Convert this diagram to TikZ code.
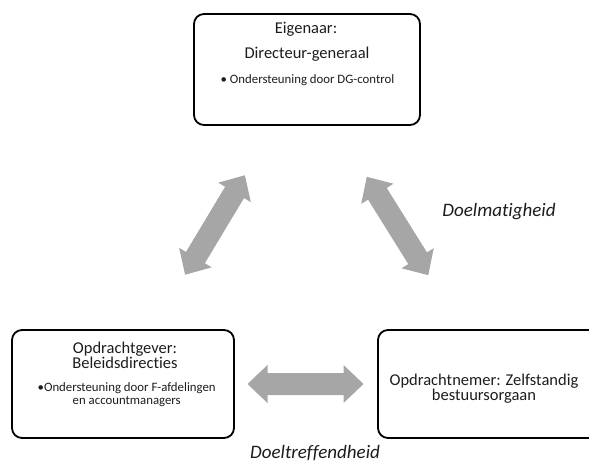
\documentclass[tikz,border=0pt]{standalone}
\usepackage{fontspec}
\setmainfont{Carlito}[Ligatures=NoCommon]
\definecolor{arrowgray}{HTML}{A6A6A6}
\definecolor{ink}{HTML}{1C1C1C}

\tikzset{
  roundbox/.style={draw=black, line width=1.8pt, rounded corners=10pt, inner sep=0pt},
  headtext/.style={anchor=base, text=ink, inner sep=0pt, align=center, font=\fontsize{16.5}{14.2}\selectfont},
  subtext/.style={anchor=base, text=ink, inner sep=0pt, align=center, font=\fontsize{12.8}{13}\selectfont},
  flowlabel/.style={anchor=base, text=ink, inner sep=0pt, font=\fontsize{19}{22}\selectfont\itshape},
  pics/dblarrow/.style={code={
    \fill[arrowgray] (-58,0) -- (-38,19) -- (-38,11) -- (38,11) -- (38,19)
      -- (58,0) -- (38,-19) -- (38,-11) -- (-38,-11) -- (-38,-19) -- cycle;
  }}
}

\begin{document}
\begin{tikzpicture}[x=1pt, y=-1pt]
\useasboundingbox (0,0) rectangle (589,463);
\clip (0,0) rectangle (589,463);

% the three parties
\node[roundbox, minimum width=226pt, minimum height=111pt] (owner) at (307,69.5) {};
\node[roundbox, minimum width=222pt, minimum height=108pt] (client) at (123,384) {};
\node[roundbox, minimum width=222pt, minimum height=108pt] (contractor) at (489,384) {};

% owner texts
\node[headtext] (ownerA) at (306,34) {Eigenaar:};
\node[headtext] (ownerB) at (307,58.5) {Directeur-generaal};
\node[subtext]  (ownerC) at (307.5,83) {• Ondersteuning door DG-control};

% client texts (multi-line nodes sit on the baseline of their last line)
\node[headtext] (clientA) at (125,368.5) {Opdrachtgever:\\Beleidsdirecties};
\node[subtext]  (clientC) at (126.7,404.5) {•Ondersteuning door F-afdelingen\\en accountmanagers};

% contractor texts
\node[headtext, font=\fontsize{16.5}{15}\selectfont] (contrA) at (484,400) {Opdrachtnemer: Zelfstandig\\bestuursorgaan};

% relations between the parties
\pic (relL) [rotate=59]  at (215,225)   {dblarrow};
\pic (relR) [rotate=-58] at (397.5,226) {dblarrow};
\pic (relB)              at (305.5,384) {dblarrow};

% relation labels
\node[flowlabel] (efficiency)    at (499,216.5) {Doelmatigheid};
\node[flowlabel] (effectiveness) at (315,458.5) {Doeltreffendheid};
\end{tikzpicture}
\end{document}
